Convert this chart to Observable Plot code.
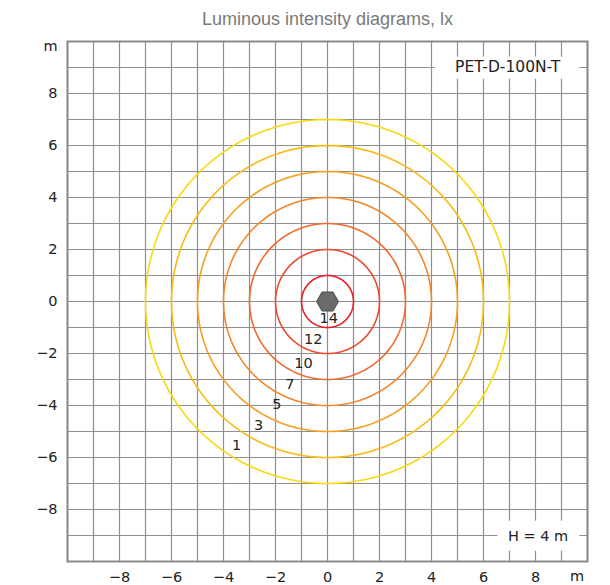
<!DOCTYPE html>
<html>
<head>
<meta charset="utf-8">
<script src="https://cdn.jsdelivr.net/npm/d3@7"></script>
<script src="https://cdn.jsdelivr.net/npm/@observablehq/plot@0.6"></script>
<style>
  html, body { margin: 0; padding: 0; background: #fff; }
  #chart svg { display: block; }
</style>
</head>
<body>
<div id="chart"></div>
<script>
// ---- data ----
const title = "Luminous intensity diagrams, lx";
const modelName = "PET-D-100N-T";
const mountHeight = "H = 4 m";
const unit = "m";
const tickValues = [-8, -6, -4, -2, 0, 2, 4, 6, 8];
const gridValues = d3.range(-10, 11, 1);
// isolux circles: radius (m) and illuminance (lx)
const radii = [1, 2, 3, 4, 5, 6, 7];
const luxValues = [14, 12, 10, 7, 5, 3, 1];
const circleColors = ["#e5202c", "#eb4a2b", "#ef6a2a", "#f3862a", "#f5a022", "#f8bb14", "#f6d90f"];
// label positions (m)
const labelX = [0.05, -0.55, -0.92, -1.45, -1.95, -2.65, -3.5];
const labelY = [-0.66, -1.47, -2.36, -3.17, -3.94, -4.75, -5.52];

// ---- derived tables ----
const angles = d3.range(0, 361, 2);
const circlePts = radii.flatMap((r, i) =>
  angles.map(a => ({
    id: i,
    color: circleColors[i],
    x: r * Math.cos(a * Math.PI / 180),
    y: r * Math.sin(a * Math.PI / 180)
  }))
);
const labels = luxValues.map((v, i) => ({ v, x: labelX[i], y: labelY[i] }));

const FONT = "DejaVu Sans";
const TITLE_FONT = "Liberation Sans";
const GRID = "#8f8f8f";
const minus = d => String(d).replace("-", "\u2212");

const chart = Plot.plot({
  width: 610,
  height: 585,
  marginTop: 41,
  marginLeft: 67,
  marginRight: 23,
  marginBottom: 24,
  style: "font-family: 'DejaVu Sans', sans-serif; font-size: 14px; background: #fff;",
  x: { domain: [-10, 10] },
  y: { domain: [-10, 10] },
  color: { type: "identity" },
  marks: [
    Plot.gridX(gridValues, { stroke: GRID, strokeOpacity: 1, strokeWidth: 1.2 }),
    Plot.gridY(gridValues, { stroke: GRID, strokeOpacity: 1, strokeWidth: 1.2 }),
    Plot.frame({ stroke: "#8a8a8a", strokeWidth: 2 }),
    Plot.axisX(tickValues, { tickSize: 0, tickPadding: 10, label: null, tickFormat: minus,
      fontFamily: FONT, fontSize: 14.5, fill: "#222" }),
    Plot.axisY(tickValues, { tickSize: 0, tickPadding: 10, label: null, tickFormat: minus,
      fontFamily: FONT, fontSize: 14.5, fill: "#222" }),
    Plot.line(circlePts, { x: "x", y: "y", z: "id", stroke: "color", strokeWidth: 1.6 }),
    Plot.dot([{ x: 0, y: 0 }], { x: "x", y: "y", symbol: "hexagon", r: 9.5, rotate: 90,
      fill: "#6b6b6b", stroke: "#4a4a4a", strokeWidth: 1 }),
    Plot.text(labels, { x: "x", y: "y", text: d => String(d.v), fill: "#222", fontSize: 14.5, fontFamily: FONT }),
    // model name box
    Plot.rect([{ x1: 4.15, x2: 9.7, y1: 8.55, y2: 9.4 }], { x1: "x1", x2: "x2", y1: "y1", y2: "y2", fill: "#fff", inset: 0 }),
    Plot.text([modelName], { x: 6.93, y: 9, text: d => d, fill: "#222", fontSize: 15.5, fontFamily: FONT }),
    // mounting height box
    Plot.rect([{ x1: 6.55, x2: 9.7, y1: -9.6, y2: -8.45 }], { x1: "x1", x2: "x2", y1: "y1", y2: "y2", fill: "#fff", inset: 0 }),
    Plot.text([mountHeight], { x: 8.1, y: -9.05, text: d => d, fill: "#222", fontSize: 14.5, fontFamily: FONT }),
    // unit labels
    Plot.text([unit], { x: -10, y: 9.8, dx: -10, textAnchor: "end", text: d => d, fill: "#222", fontSize: 14.5, fontFamily: FONT }),
    Plot.text([unit], { x: 9.6, y: -10, dy: 15, text: d => d, fill: "#222", fontSize: 14.5, fontFamily: FONT }),
    // title
    Plot.text([title], { frameAnchor: "top", lineAnchor: "middle", dy: -22.5, text: d => d,
      fill: "#7a7a7a", fontSize: 18, fontFamily: TITLE_FONT, letterSpacing: "0.6px" })
  ]
});
document.getElementById("chart").appendChild(chart);
</script>
</body>
</html>
